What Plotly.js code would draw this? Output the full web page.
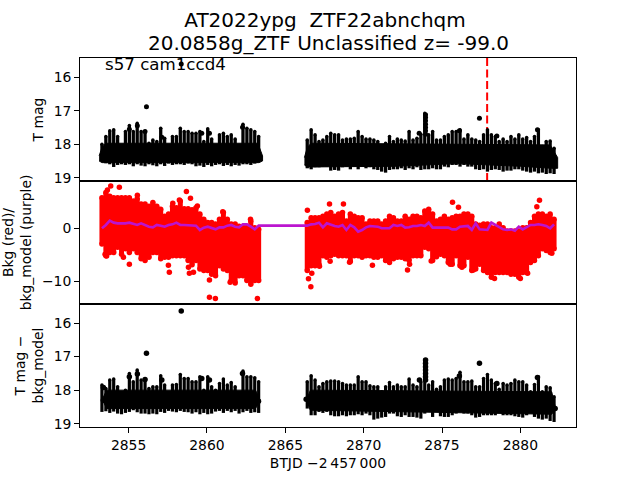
<!DOCTYPE html>
<html>
<head>
<meta charset="utf-8">
<script src="https://cdn.plot.ly/plotly-3.0.1.min.js"></script>
<style>html,body{margin:0;padding:0;background:#fff}#chart{width:640px;height:480px}</style>
</head>
<body>
<div id="chart"></div>
<script>
// Columns of the two observing segments (BTJD - 2457000)
const timeA = [2853.3,2853.55,2853.8,2854.05,2854.3,2854.55,2854.8,2855.05,2855.3,2855.55,2855.8,2856.05,2856.3,2856.55,2856.8,2857.05,2857.3,2857.55,2857.8,2858.05,2858.3,2858.55,2858.8,2859.05,2859.3,2859.55,2859.8,2860.05,2860.3,2860.55,2860.8,2861.05,2861.3,2861.55,2861.8,2862.05,2862.3,2862.55,2862.8,2863.05,2863.3];
const timeB = [2866.4,2866.65,2866.9,2867.15,2867.4,2867.65,2867.9,2868.15,2868.4,2868.65,2868.9,2869.15,2869.4,2869.65,2869.9,2870.15,2870.4,2870.65,2870.9,2871.15,2871.4,2871.65,2871.9,2872.15,2872.4,2872.65,2872.9,2873.15,2873.4,2873.65,2873.9,2874.15,2874.4,2874.65,2874.9,2875.15,2875.4,2875.65,2875.9,2876.15,2876.4,2876.65,2876.9,2877.15,2877.4,2877.65,2877.9,2878.15,2878.4,2878.65,2878.9,2879.15,2879.4,2879.65,2879.9,2880.15,2880.4,2880.65,2880.9,2881.15,2881.4,2881.65,2881.9,2882.15];

// Panel 1: T mag, upper and lower edge of the band
const magTopA = [18.0,17.77,17.6,17.57,17.77,18.07,17.62,17.44,17.62,17.37,17.62,17.62,17.97,17.87,17.92,17.52,17.82,18.07,17.77,17.77,17.52,17.62,17.62,17.67,17.67,17.62,17.92,17.54,17.84,18.07,17.72,17.67,17.77,17.72,17.84,18.12,17.4,17.52,17.57,17.62,17.77];
const magLowA = [18.5,18.57,18.6,18.68,18.62,18.6,18.62,18.6,18.66,18.6,18.64,18.66,18.6,18.63,18.66,18.6,18.65,18.58,18.62,18.6,18.6,18.62,18.58,18.6,18.66,18.64,18.68,18.62,18.66,18.62,18.6,18.65,18.62,18.66,18.62,18.64,18.6,18.6,18.62,18.58,18.55];
const magTopB = [17.87,17.57,17.72,17.92,17.87,17.77,17.67,17.72,17.72,17.87,17.84,17.84,17.82,17.62,17.77,17.84,17.84,17.87,17.92,18.07,17.97,17.77,17.92,17.84,17.87,17.9,17.62,17.87,17.82,17.7,17.07,17.72,17.62,17.87,17.87,17.77,17.72,17.62,17.62,17.57,17.84,17.72,17.84,17.87,17.92,17.72,17.57,17.72,17.77,17.92,17.84,17.92,17.77,17.84,17.72,17.84,17.8,17.92,17.77,17.57,18.07,17.92,17.9,18.12];
const magLowB = [18.72,18.75,18.69,18.69,18.67,18.67,18.79,18.77,18.79,18.69,18.67,18.75,18.67,18.75,18.67,18.72,18.69,18.75,18.77,18.82,18.85,18.77,18.75,18.75,18.72,18.77,18.72,18.75,18.69,18.77,18.75,18.75,18.72,18.75,18.75,18.67,18.69,18.62,18.62,18.67,18.62,18.67,18.67,18.75,18.77,18.75,18.82,18.77,18.75,18.77,18.82,18.79,18.79,18.75,18.75,18.79,18.82,18.85,18.82,18.87,18.85,18.89,18.87,18.89];
// solid core of the band, as outlines
const magCoreX = [2853.12,2853.3,2853.55,2863.25,2863.55,2863.55,2863.3,2853.3,2853.12,null,2866.22,2866.4,2866.65,2881.9,2882.38,2882.38,2882.0,2880.0,2876.0,2872.0,2866.4,2866.22];
const magCoreY = [18.35,18.1,17.97,17.97,18.35,18.5,18.55,18.55,18.5,null,18.4,18.1,17.97,18.02,18.4,18.72,18.72,18.66,18.58,18.66,18.68,18.62];
const magDotX = [2856.14,2858.36,2877.39,2855.05,2855.56,2856.05,2857.12,2859.67,2860.16,2862.27,2873.54,2876.11,2881.09,2878.5,2873.95,2873.95,2873.95,2873.95,2873.95,2873.95,2873.95];
const magDotY = [16.88,15.6,17.22,17.55,17.45,17.62,17.79,17.67,17.67,17.49,17.67,17.6,17.57,17.75,17.12,17.2,17.3,17.4,17.5,17.6,17.7];
const eventX = [2877.88,2877.88];
const eventY = [15.42,19.1];

// Panel 2: background (red) edges, outliers and model (purple)
const bkgTopA = [5.8,6.8,6.1,5.8,5.8,5.8,5.8,5.8,5.2,5.6,4.6,4.6,4.2,4.9,4.2,3.6,2.3,2.7,4.2,3.9,5.2,3.7,3.7,3.5,3.9,2.7,1.7,1.1,1.1,0.8,1.7,3.0,1.7,0.8,0.8,0.4,0.4,0.4,1.4,0.1,-0.2];
const bkgLowA = [-3.0,-5.2,-4.6,-4.6,-3.6,-4.9,-3.9,-4.6,-3.9,-4.6,-5.8,-6.1,-5.5,-4.6,-4.6,-5.8,-5.5,-5.5,-5.2,-5.2,-5.2,-5.2,-6.1,-6.9,-6.1,-7.7,-8.0,-8.0,-8.7,-9.0,-7.1,-7.7,-8.0,-9.9,-10.4,-9.0,-9.0,-9.9,-10.6,-9.9,-9.9];
const bkgTopB = [1.1,2.0,2.0,2.0,2.3,2.7,3.0,2.3,2.7,3.0,1.4,2.7,2.3,2.0,2.0,0.8,1.4,1.4,1.4,0.8,1.4,2.3,2.0,1.4,1.4,2.3,1.7,2.3,2.3,2.0,3.3,3.6,2.7,1.4,1.7,2.3,1.7,2.0,2.3,2.3,2.7,2.7,2.3,0.8,0.6,0.8,0.8,0.1,0.1,0.8,0.1,-0.5,-0.5,-0.5,-0.5,0.1,0.1,1.1,2.3,2.7,2.7,2.3,2.7,1.7];
const bkgLowB = [-8.0,-7.1,-7.1,-6.9,-5.2,-5.5,-5.2,-4.9,-5.2,-5.2,-5.2,-6.3,-5.2,-5.2,-5.5,-5.2,-5.2,-5.5,-5.5,-5.2,-6.1,-6.5,-5.8,-5.5,-5.5,-5.8,-6.1,-5.2,-5.2,-5.2,-3.6,-3.9,-6.1,-5.4,-4.9,-5.2,-6.5,-6.8,-5.2,-7.1,-7.1,-5.5,-8.0,-7.7,-6.8,-8.0,-8.4,-9.3,-8.4,-8.4,-8.4,-8.4,-8.7,-8.7,-9.3,-8.4,-8.4,-6.5,-6.1,-5.2,-3.9,-4.2,-4.6,-3.9];
const bkgDotX = [2853.86,2854.41,2853.65,2858.69,2858.95,2858.24,2857.82,2855.56,2859.39,2861.01,2862.78,2853.5,2853.6,2854.67,2855.05,2857.54,2857.6,2858.82,2858.88,2859.14,2860.16,2861.48,2860.16,2860.54,2863.22,2881.22,2881.05,2875.67,2876.05,2867.82,2868.71,2866.41,2866.63,2866.48,2866.69,2872.8,2872.93,2870.56,2869.1,2867.86,2874.31,2867.18,2880.46,2878.35,2880.0,2877.0,2876.27,2875.52,2882.01];
const bkgDotY = [8.0,7.8,7.27,7.0,5.7,5.37,4.74,6.26,4.23,3.16,1.7,-4.9,-5.26,-5.5,-6.84,-7.03,-8.36,-7.4,-8.55,-8.36,-9.81,-10.25,-13.1,-13.3,-13.3,5.3,4.1,4.93,3.98,4.6,4.6,3.41,-11.07,-9.56,-8.55,-7.9,-6.84,-7.03,-6.46,-6.27,-6.2,-7.2,-8.55,-9.5,-9.5,-7.9,-7.4,-6.8,-4.75];
const modelA = [0.0,0.63,1.45,1.07,0.94,0.88,0.94,1.07,0.82,0.63,0.94,0.63,0.31,0.18,0.63,0.5,0.31,0.63,0.75,1.07,0.63,0.63,0.63,0.63,0.5,-0.32,0.12,0.31,0.12,-0.2,0.18,0.18,0.5,0.63,0.31,0.18,0.75,0.75,0.31,-0.2,0.5];
const modelB = [0.5,0.75,0.82,1.07,0.18,0.94,0.63,0.44,0.31,0.63,-0.32,0.63,0.18,-0.64,-0.32,0.18,0.44,0.44,0.31,0,0,0,0.63,0.44,0.63,0.12,0.18,0.44,0.44,0.63,0.44,1.07,0.12,0.12,0.12,0.12,0.12,-0.2,-0.2,0.31,0.44,0.44,-0.32,0.94,-0.2,-0.2,-0.32,1.07,0.63,0.31,-0.2,-0.32,-0.2,-0.45,0.31,-0.2,0.18,0.63,0.63,0.75,0.63,0.44,0,0.75];

// Panel 3: T mag - bkg_model
const subTopA = [17.85,17.95,17.7,17.67,17.9,18.35,18.0,17.5,17.75,17.4,17.7,17.7,17.95,17.9,17.9,17.57,17.85,18.3,17.85,17.83,17.53,17.65,17.65,17.75,17.75,17.6,18.0,17.6,17.9,18.0,17.8,17.67,17.85,17.77,17.9,18.2,17.43,17.6,17.6,17.63,17.75];
const subLowA = [18.65,18.63,18.68,18.64,18.7,18.72,18.68,18.65,18.6,18.66,18.7,18.7,18.72,18.7,18.72,18.65,18.68,18.62,18.64,18.66,18.62,18.65,18.66,18.7,18.66,18.72,18.68,18.72,18.7,18.64,18.62,18.68,18.62,18.66,18.62,18.7,18.66,18.62,18.68,18.66,18.68];
const subTopB = [17.75,17.57,17.7,17.9,17.8,17.75,17.73,17.73,17.75,17.8,17.85,17.85,17.85,17.6,17.75,17.75,17.87,17.9,17.9,18.05,17.9,17.77,17.9,17.85,17.9,17.9,17.67,17.85,17.9,17.75,17.1,17.85,17.75,17.97,17.9,17.7,17.67,17.7,17.65,17.47,17.75,17.75,17.73,17.9,17.9,17.65,17.53,17.7,17.8,17.97,17.8,17.85,17.8,17.7,17.75,17.75,17.85,18.05,17.83,17.6,18.05,17.9,17.93,18.2];
const subLowB = [18.55,18.75,18.75,18.65,18.68,18.65,18.75,18.78,18.78,18.75,18.78,18.75,18.75,18.72,18.75,18.7,18.75,18.88,18.85,18.82,18.8,18.7,18.7,18.78,18.8,18.75,18.8,18.8,18.82,18.85,18.7,18.55,18.8,18.55,18.78,18.8,18.8,18.75,18.7,18.65,18.7,18.7,18.75,18.82,18.8,18.75,18.75,18.75,18.75,18.5,18.75,18.75,18.75,18.78,18.8,18.82,18.75,18.6,18.8,18.85,18.88,18.85,18.92,18.95];
const subCoreX = [2853.35,2853.6,2863.1,2863.4,2863.1,2853.6,2853.35,null,2866.35,2866.6,2882.0,2882.25,2882.0,2866.6,2866.35];
const subCoreY = [18.25,18.0,18.0,18.3,18.55,18.55,18.3,null,18.3,18.0,18.05,18.55,18.72,18.6,18.3];
const subDotX = [2856.14,2858.36,2877.39,2853.39,2853.39,2863.29,2862.27,2855.05,2855.56,2856.05,2857.12,2859.67,2860.16,2873.56,2876.11,2881.09,2878.5,2866.33,2867.28,2882.22,2873.95,2873.95,2873.95,2873.95,2873.95,2873.95,2873.95];
const subDotY = [16.9,15.64,17.2,17.92,18.3,18.33,17.5,17.6,17.52,17.68,17.7,17.65,17.7,17.7,17.58,17.62,17.8,18.27,18.15,18.55,17.1,17.2,17.3,17.4,17.5,17.6,17.7];

const titleLines = ['AT2022ypg  ZTF22abnchqm', '20.0858g_ZTF Unclassified z= -99.0'];
const sectorLabel = 's57 cam1ccd4';
const xLabel = 'BTJD \u22122\u2009457\u2009000';
const yLabels = ['T mag', 'Bkg (red)/<br>bkg_model (purple)', 'T mag \u2212<br>bkg_model'];
const xTicks = [2855,2860,2865,2870,2875,2880];
const magTicks = [16,17,18,19];
const bkgTicks = [0,-10];
const xRange = [2851.9,2883.55];

const minus = (a, b) => a.map((v, i) => v - b[i]);
function band(x, top, low, color, axis, thick, size) {
  return {x: x, y: top, xaxis: 'x' + axis, yaxis: 'y' + axis, type: 'scatter', mode: 'markers',
    marker: {color: color, size: size},
    error_y: {type: 'data', symmetric: false, array: minus(low, top), arrayminus: top.map(() => 0),
      color: color, thickness: thick, width: 0}};
}
function dots(x, y, color, axis, size) {
  return {x: x, y: y, xaxis: 'x' + axis, yaxis: 'y' + axis, type: 'scatter', mode: 'markers',
    marker: {color: color, size: size}};
}
function core(x, y, axis) {
  return {x: x, y: y, xaxis: 'x' + axis, yaxis: 'y' + axis, type: 'scatter', mode: 'lines',
    fill: 'toself', fillcolor: 'black', line: {color: 'black', width: 1}};
}
const tA = timeA.concat(timeB);
const data = [
  {x: eventX, y: eventY, xaxis: 'x', yaxis: 'y', type: 'scatter', mode: 'lines',
    line: {color: 'red', width: 2, dash: '8px,3.5px'}},
  core(magCoreX, magCoreY, ''),
  band(tA, magTopA.concat(magTopB), magLowA.concat(magLowB), 'black', '', 3.3, 3.5),
  dots(magDotX, magDotY, 'black', '', 5),
  band(tA, bkgTopA.concat(bkgTopB), bkgLowA.concat(bkgLowB), 'red', '2', 5, 5.5),
  dots(tA, bkgLowA.concat(bkgLowB), 'red', '2', 5.5),
  dots(bkgDotX, bkgDotY, 'red', '2', 5.5),
  {x: tA, y: modelA.concat(modelB), xaxis: 'x2', yaxis: 'y2', type: 'scatter', mode: 'lines',
    line: {color: '#bb14cf', width: 2.6}},
  core(subCoreX, subCoreY, '3'),
  band(tA, subTopA.concat(subTopB), subLowA.concat(subLowB), 'black', '3', 3.2, 3.5),
  dots(subDotX, subDotY, 'black', '3', 5.5)
];
const font = {family: 'DejaVu Sans', size: 13.9, color: 'black'};
const titleFont = {family: 'DejaVu Sans', size: 20, color: 'black'};
const frame = {showline: true, mirror: true, linecolor: 'black', linewidth: 1, showgrid: false, zeroline: false,
  ticks: 'outside', ticklen: 4.9, tickwidth: 1, tickcolor: 'black', tickfont: font};
const hiddenX = Object.assign({}, frame, {ticks: '', showticklabels: false, range: xRange});
const layout = {
  width: 640, height: 480, showlegend: false, paper_bgcolor: 'white', plot_bgcolor: 'white',
  margin: {l: 80, r: 64, t: 58, b: 53, pad: 0}, font: font,
  title: {text: titleLines[0], font: titleFont,
    x: 0.494, xref: 'paper', xanchor: 'center', y: 0.958, yanchor: 'middle'},
  xaxis: Object.assign({}, hiddenX, {anchor: 'y', domain: [0, 1]}),
  xaxis2: Object.assign({}, hiddenX, {anchor: 'y2', domain: [0, 1]}),
  xaxis3: Object.assign({}, frame, {anchor: 'y3', domain: [0, 1], range: xRange, tickvals: xTicks,
    title: {text: xLabel, font: font, standoff: 6}}),
  yaxis: Object.assign({}, frame, {anchor: 'x', domain: [2/3, 1], range: [19.1, 15.42], tickvals: magTicks,
    title: {text: yLabels[0], font: font, standoff: 6}}),
  yaxis2: Object.assign({}, frame, {anchor: 'x2', domain: [1/3, 2/3], range: [-14.36, 8.97], tickvals: bkgTicks,
    title: {text: yLabels[1], font: font, standoff: 8}}),
  yaxis3: Object.assign({}, frame, {anchor: 'x3', domain: [0, 1/3], range: [19.1, 15.43], tickvals: magTicks,
    title: {text: yLabels[2], font: font, standoff: 6}}),
  annotations: [
    {text: titleLines[1], xref: 'paper', yref: 'paper', x: 0.5, y: 1, yshift: 15, xanchor: 'center', yanchor: 'middle',
      showarrow: false, font: titleFont},
    {text: sectorLabel, xref: 'paper', yref: 'paper', x: 0.0464, y: 1.0, yshift: 5,
      xanchor: 'left', yanchor: 'top', showarrow: false, font: {family: 'DejaVu Sans', size: 16.67, color: 'black'}}]
};
Plotly.newPlot('chart', data, layout, {displayModeBar: false, staticPlot: true});
</script>
</body>
</html>
